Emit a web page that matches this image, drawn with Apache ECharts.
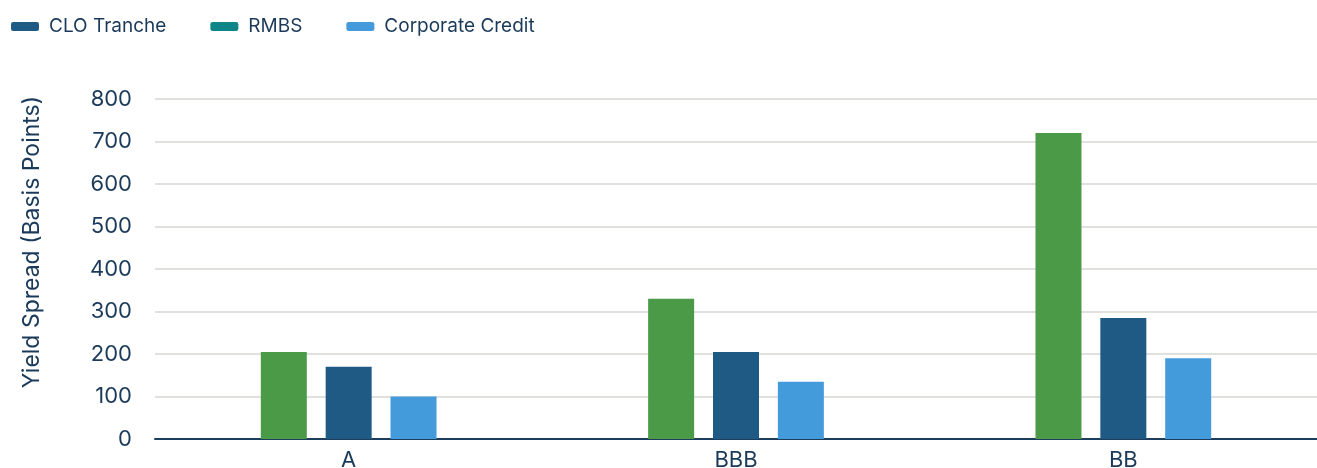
<!DOCTYPE html>
<html>
<head>
<meta charset="utf-8">
<script src="https://cdn.jsdelivr.net/npm/echarts@6/dist/echarts.min.js"></script>
<style>
  html, body { margin: 0; padding: 0; background: #fff; }
  #main_chart { width: 1317px; height: 468px; }
</style>
</head>
<body>
<div id="main_chart"></div>
<script>
var categories = ['A', 'BBB', 'BB'];
var rmbsData = [205, 330, 720];
var cloData = [170, 205, 285];
var corpData = [100, 135, 190];
var yTicks = [0, 100, 200, 300, 400, 500, 600, 700, 800];

var textColor = '#1b3a5a';
var fontName = 'Inter';

var main_chart = echarts.init(document.getElementById('main_chart'));

var chartOpt = {
    animation: false,
    textStyle: { fontFamily: fontName },
    legend: {
        left: 6,
        top: 12,
        itemWidth: 28,
        itemHeight: 9,
        itemGap: 44,
        icon: 'roundRect',
        textStyle: { color: textColor, fontSize: 19, fontFamily: fontName, padding: [0, 0, 0, 5] },
        data: [
            { name: 'CLO Tranche', itemStyle: { color: '#1f5a84' } },
            { name: 'RMBS', itemStyle: { color: '#0e8688' } },
            { name: 'Corporate Credit', itemStyle: { color: '#439bdb' } }
        ]
    },
    grid: { left: 155, right: 0, top: 99, bottom: 29, containLabel: false, outerBoundsMode: 'none' },
    xAxis: {
        type: 'category',
        data: categories,
        axisTick: { show: false },
        axisLine: { lineStyle: { color: '#1d3d5c', width: 2 } },
        axisLabel: { color: textColor, fontSize: 22, margin: 10, fontFamily: fontName }
    },
    yAxis: {
        type: 'value',
        min: yTicks[0],
        max: yTicks[yTicks.length - 1],
        interval: 100,
        name: 'Yield Spread (Basis Points)',
        nameLocation: 'middle',
        nameGap: 111,
        nameRotate: 90,
        nameTextStyle: { color: textColor, fontSize: 23, fontFamily: fontName, padding: [0, 0, 0, 54] },
        axisLine: { show: false },
        axisTick: { show: false },
        axisLabel: { color: textColor, fontSize: 22, margin: 23, fontFamily: fontName, padding: [0, 0, 12, 0] },
        splitLine: { lineStyle: { color: '#d6d6d2', width: 1.5 } }
    },
    series: [
        { name: 'RMBS', type: 'bar', data: rmbsData, barWidth: 46, barGap: '41%', itemStyle: { color: '#4a9a48' } },
        { name: 'CLO Tranche', type: 'bar', data: cloData, barWidth: 46, barGap: '41%', itemStyle: { color: '#1f5a84' } },
        { name: 'Corporate Credit', type: 'bar', data: corpData, barWidth: 46, barGap: '41%', itemStyle: { color: '#439bdb' } }
    ]
};

main_chart.setOption(chartOpt);
</script>
</body>
</html>
